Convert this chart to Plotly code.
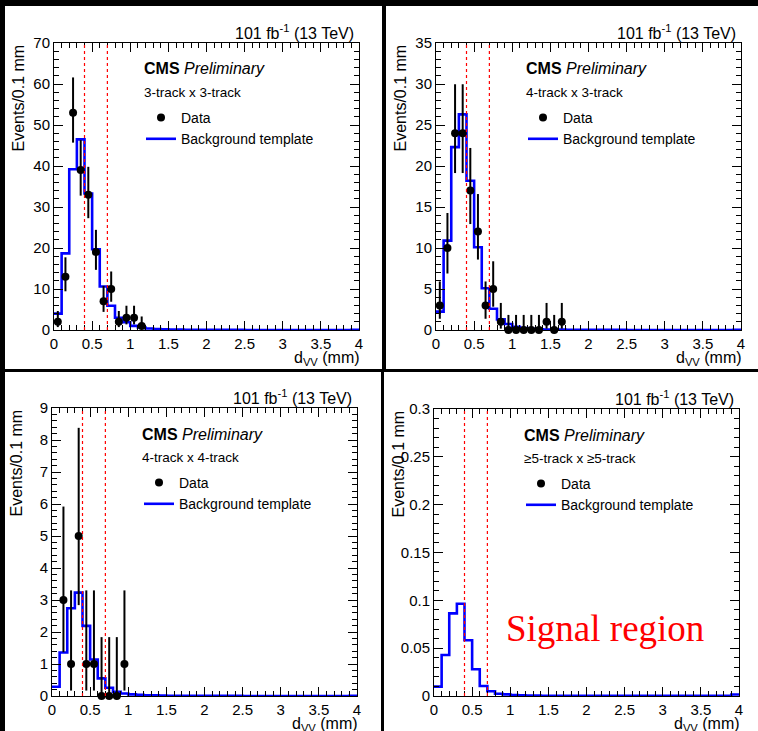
import plotly.graph_objects as go
import numpy as np

# ---------------- data ----------------
bin_edges = [round(0.1 * i, 1) for i in range(41)]
cut_lines = [0.4, 0.7]

panel_labels = ["3-track x 3-track", "4-track x 3-track", "4-track x 4-track", "≥5-track x ≥5-track"]
y_ranges = [70, 35, 9, 0.3]
y_dticks = [10, 5, 1, 0.05]
y_minor = [2, 1, 0.2, 0.01]

bkg_33 = [4.0, 18.7, 39.2, 46.5, 33.3, 19.7, 10.6, 5.9, 3.0, 1.9, 1.0, 0.6, 0.35, 0.22, 0.15,
          0.11, 0.08, 0.06, 0.05, 0.04, 0.035, 0.03, 0.025, 0.02, 0.02, 0.018, 0.016, 0.014,
          0.012, 0.011, 0.01, 0.01, 0.009, 0.008, 0.008, 0.007, 0.007, 0.006, 0.006, 0.05]
bkg_43 = [2.24, 10.9, 22.3, 26.3, 18.2, 10.1, 5.1, 2.6, 1.3, 0.73, 0.4, 0.25, 0.15, 0.1, 0.07,
          0.05, 0.04, 0.03, 0.025, 0.02, 0.017, 0.015, 0.013, 0.011, 0.01, 0.009, 0.008, 0.007,
          0.006, 0.006, 0.005, 0.005, 0.004, 0.004, 0.004, 0.003, 0.003, 0.003, 0.003, 0.03]
bkg_44 = [0.29, 1.36, 2.74, 3.23, 2.19, 1.14, 0.55, 0.26, 0.135, 0.08, 0.05, 0.035, 0.025, 0.018,
          0.013, 0.01, 0.008, 0.007, 0.006, 0.005, 0.004, 0.004, 0.003, 0.003, 0.003, 0.002,
          0.002, 0.002, 0.002, 0.002, 0.001, 0.001, 0.001, 0.001, 0.001, 0.001, 0.001, 0.001,
          0.001, 0.004]
bkg_55 = [0.0098, 0.0429, 0.0864, 0.0965, 0.0582, 0.0279, 0.0105, 0.0049, 0.0024, 0.0017, 0.001,
          0.0007, 0.0005, 0.0004, 0.0003, 0.0003, 0.0002, 0.0002, 0.0002, 0.0002, 0.0001, 0.0001,
          0.0001, 0.0001, 0.0001, 0.0001, 0.0001, 0.0001, 0.0001, 0.0001, 0.0001, 0.0001, 0.0001,
          0.0001, 0.0001, 0.0001, 0.0001, 0.0001, 0.0001, 0.0015]

data_x_33 = [0.05, 0.15, 0.25, 0.35, 0.45, 0.55, 0.65, 0.75, 0.85, 0.95, 1.05, 1.15]
data_y_33 = [2, 13, 53, 39, 33, 19, 7, 10, 2, 3, 3, 1]
data_up_33 = [2.64, 4.73, 8.6, 7.31, 6.80, 5.43, 3.77, 4.27, 2.64, 2.92, 2.92, 2.30]
data_dn_33 = [1.29, 3.56, 7.3, 6.23, 5.73, 4.33, 2.58, 3.11, 1.29, 1.63, 1.63, 0.83]

data_x_43 = [0.05, 0.15, 0.25, 0.35, 0.45, 0.55, 0.65, 0.75, 0.85, 0.95, 1.05, 1.15, 1.25, 1.35,
             1.45, 1.55, 1.65]
data_y_43 = [3, 10, 24, 24, 17, 12, 3, 5, 1, 0, 0, 0, 0, 0, 1, 0, 1]
data_up_43 = [2.92, 4.27, 5.97, 5.97, 5.20, 4.58, 2.92, 3.38, 2.30, 1.84, 1.84, 1.84, 1.84, 1.84,
              2.30, 1.84, 2.30]
data_dn_43 = [1.63, 3.11, 4.86, 4.86, 4.08, 3.41, 1.63, 2.16, 0.83, 0, 0, 0, 0, 0, 0.83, 0, 0.83]

data_x_44 = [0.15, 0.25, 0.35, 0.45, 0.55, 0.65, 0.75, 0.85, 0.95]
data_y_44 = [3, 1, 5, 1, 1, 0, 0, 0, 1]
data_up_44 = [2.92, 2.30, 3.38, 2.30, 2.30, 1.84, 1.84, 1.84, 2.30]
data_dn_44 = [1.63, 0.83, 2.16, 0.83, 0.83, 0, 0, 0, 0.83]

# signal region: data not shown (blinded)
data_x_55 = [None]
data_y_55 = [None]

panels = [
    dict(bkg=bkg_33, dx=data_x_33, dy=data_y_33, up=data_up_33, dn=data_dn_33),
    dict(bkg=bkg_43, dx=data_x_43, dy=data_y_43, up=data_up_43, dn=data_dn_43),
    dict(bkg=bkg_44, dx=data_x_44, dy=data_y_44, up=data_up_44, dn=data_dn_44),
    dict(bkg=bkg_55, dx=data_x_55, dy=data_y_55, up=[0], dn=[0]),
]

# ---------------- layout geometry (pixels) ----------------
W, H = 758, 731
# plot areas: x0, x1, ytop, ybottom
areas = [(54, 359, 43, 330), (436, 741, 43, 330), (52, 357, 408, 696), (434, 739, 409, 696)]
# white pad rectangles
pads = [(5, 382, 6, 369), (386, 758, 6, 369), (5, 381, 372, 731), (384, 758, 372, 731)]
ytitle_x = [18, 400, 16, 398]

FONT = "Liberation Sans, Arial, Helvetica, sans-serif"


def px(x):
    return x / W


def py(y):
    return 1 - y / H


fig = go.Figure()
shapes = []
annotations = []
layout = {}

for i, (p, a) in enumerate(zip(panels, areas)):
    n = "" if i == 0 else str(i + 1)
    xa, ya = "x" + n, "y" + n
    leg = "legend" + n
    x0, x1, yt, yb = a

    fig.add_trace(go.Scatter(
        x=bin_edges, y=p["bkg"] + [p["bkg"][-1]], mode="lines", line_shape="hv",
        name="Background template", xaxis=xa, yaxis=ya,
        line=dict(color="#0000ff", width=2.6), legend=leg, showlegend=True, legendrank=2,
    ))
    fig.add_trace(go.Scatter(
        x=p["dx"], y=p["dy"], mode="markers", name="Data", xaxis=xa, yaxis=ya,
        marker=dict(color="black", size=8, symbol="circle"),
        error_y=dict(type="data", symmetric=False, array=p["up"], arrayminus=p["dn"],
                     color="black", thickness=2, width=0),
        legend=leg, showlegend=True, cliponaxis=False, legendrank=1,
    ))

    common = dict(showgrid=False, zeroline=False, showline=True, linecolor="black", linewidth=1,
                  mirror="ticks", ticks="inside", tickcolor="black", tickwidth=1, automargin=False,
                  tickfont=dict(family=FONT, size=15, color="black"))
    layout["xaxis" + n] = dict(
        domain=[px(x0), px(x1)], anchor=ya, range=[0, 4], dtick=0.5, tick0=0, ticklen=9,
        minor=dict(ticks="inside", dtick=0.1, ticklen=5, tickcolor="black", tickwidth=1),
        **common)
    layout["yaxis" + n] = dict(
        domain=[py(yb), py(yt)], anchor=xa, range=[0, y_ranges[i]], dtick=y_dticks[i], tick0=0,
        ticklen=9,
        minor=dict(ticks="inside", dtick=y_minor[i], ticklen=5, tickcolor="black", tickwidth=1),
        **common)

    layout[leg] = dict(x=px(x0 + 87), y=py(yt + 59), xanchor="left", yanchor="top",
                       bgcolor="rgba(0,0,0,0)", borderwidth=0, tracegroupgap=0,
                       traceorder="normal",
                       font=dict(family=FONT, size=14, color="black"))

    for c in cut_lines:
        shapes.append(dict(type="line", xref=xa, yref=ya + " domain", x0=c, x1=c, y0=0, y1=1,
                           line=dict(color="red", width=1.2, dash="dot")))

    pl = pads[i]
    shapes.append(dict(type="rect", xref="paper", yref="paper", x0=px(pl[0]), x1=px(pl[1]),
                       y0=py(pl[3]), y1=py(pl[2]), fillcolor="white", line=dict(width=0),
                       layer="below"))

    annotations += [
        dict(text="101 fb<sup>-1</sup> (13 TeV)", x=px(x1 - 3), y=py(yt - 11), xref="paper",
             yref="paper", xanchor="right", yanchor="middle", showarrow=False,
             font=dict(family=FONT, size=16, color="black")),
        dict(text="<b>CMS</b> <i>Preliminary</i>", x=px(x0 + 88), y=py(yt + 26), xref="paper",
             yref="paper", xanchor="left", yanchor="middle", showarrow=False,
             font=dict(family=FONT, size=16, color="black")),
        dict(text=panel_labels[i], x=px(x0 + 88), y=py(yt + 49), xref="paper",
             yref="paper", xanchor="left", yanchor="middle", showarrow=False,
             font=dict(family=FONT, size=13.5, color="black")),
        dict(text="Events/0.1 mm", x=px(ytitle_x[i]), y=py(yt), xref="paper", yref="paper",
             xanchor="center", yanchor="top", textangle=-90, showarrow=False,
             font=dict(family=FONT, size=16, color="black")),
        dict(text="d<sub>VV</sub> (mm)", x=px(x1 + 3), y=py(yb + 28), xref="paper", yref="paper",
             xanchor="right", yanchor="middle", showarrow=False,
             font=dict(family=FONT, size=16, color="black")),
    ]

annotations.append(dict(text="Signal region", x=px(504), y=py(628), xref="paper", yref="paper",
                        xanchor="left", yanchor="middle", showarrow=False,
                        font=dict(family="Liberation Serif, Times New Roman, serif", size=37,
                                  color="red")))

fig.update_layout(
    width=W, height=H, margin=dict(l=0, r=0, t=0, b=0, autoexpand=False),
    paper_bgcolor="black", plot_bgcolor="white",
    shapes=shapes, annotations=annotations, **layout,
)

fig.write_html("out.html")
